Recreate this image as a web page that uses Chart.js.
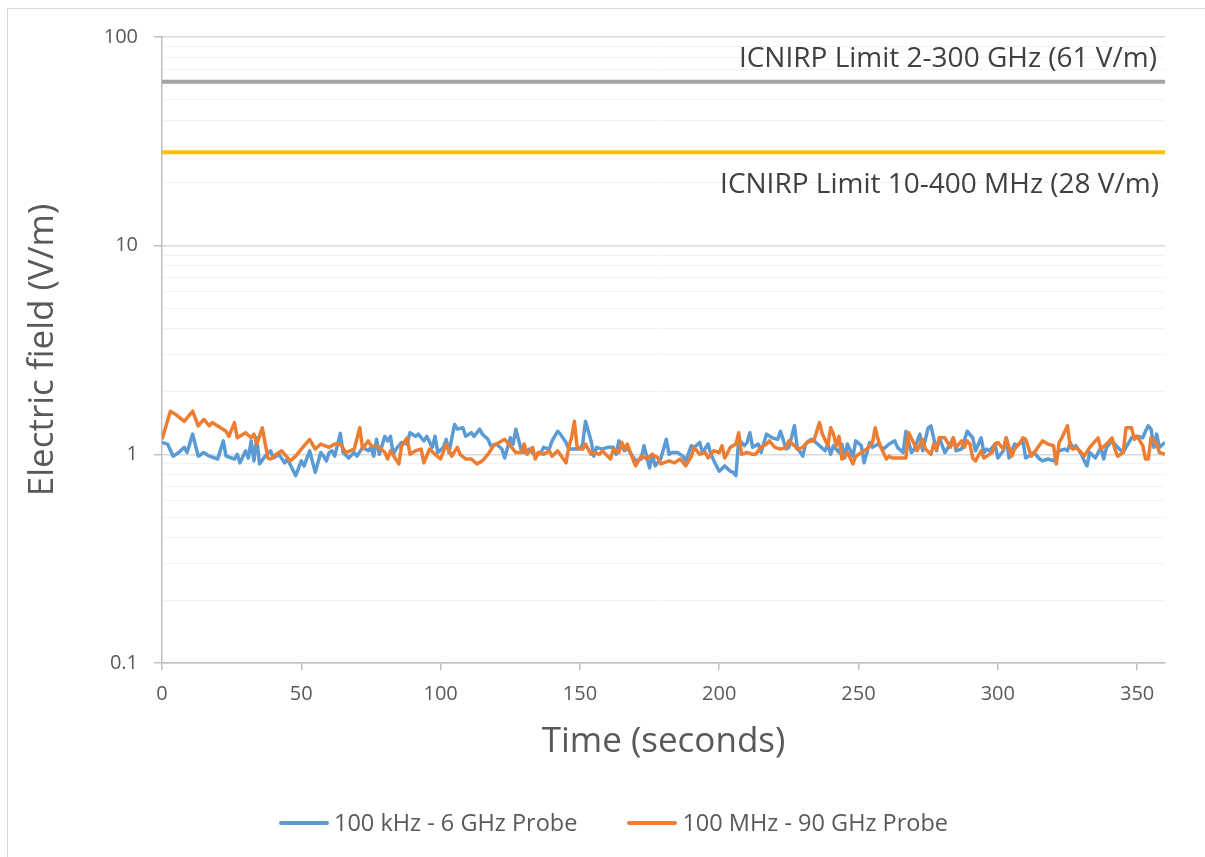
<!DOCTYPE html>
<html lang="en">
<head>
<meta charset="UTF-8">
<title>Electric field over time</title>
<script src="https://cdn.jsdelivr.net/npm/chart.js"></script>
<style>
  body { margin: 0; background: #fff; width: 1205px; height: 857px; overflow: hidden; position: relative; font-family: "Open Sans", sans-serif; }
  .frame { position: absolute; left: 7px; top: 8px; width: 1210px; height: 860px; border: 1px solid #d9d9d9; }
  .wrap { position: absolute; left: 0; top: 0; }
  .legend { position: absolute; top: 807px; left: 279px; display: flex; gap: 50px; color: #595959; font-size: 23.5px; line-height: 31px; }
  .legend .item { display: flex; align-items: center; }
  .legend i { display: inline-block; width: 50px; height: 4px; margin-right: 5px; border-radius: 2px; }
</style>
</head>
<body>
<div class="frame"></div>
<div class="wrap"><canvas id="chart" width="1205" height="857"></canvas></div>
<div class="legend" id="legend"></div>

<script>
// values (seconds, V/m)
const blueTime = [0,2,4,6,8,9,11,13,15,17,20,22,23,26,27,28,30,31,32,33,34,35,37,39,40,42,44,45,48,50,51,53,55,57,58,59,60,61,62,64,65,67,69,70,72,74,75,76,77,78,80,81,82,83,84,86,88,89,91,92,94,95,97,98,99,101,102,103,105,106,108,109,111,112,114,115,117,118,120,122,123,125,126,127,129,130,132,134,136,137,139,140,142,143,145,146,148,150,151,152,154,155,156,158,160,162,163,164,166,167,168,170,172,173,175,176,177,179,181,182,183,185,187,188,190,191,193,194,196,197,199,200,202,204,205,206,207,209,210,211,212,214,215,217,219,221,222,224,225,227,228,230,231,233,234,236,238,239,240,241,243,244,245,246,248,249,251,252,254,255,257,259,261,263,264,266,267,269,270,272,273,275,276,278,279,281,283,284,285,287,289,291,292,294,295,296,297,299,300,302,303,304,306,307,309,310,312,313,315,316,318,320,322,324,325,326,327,328,330,331,332,333,335,337,338,339,341,343,345,346,348,350,352,353,354,355,356,357,358,360];
const blueField = [1.14,1.12,0.98,1.02,1.08,1.02,1.25,0.98,1.02,0.98,0.95,1.16,0.98,0.95,1.00,0.91,1.04,0.96,1.16,0.93,1.20,0.90,0.98,1.04,0.96,1.00,0.91,0.95,0.79,0.93,0.88,1.04,0.82,1.02,0.98,0.93,1.02,1.04,0.98,1.26,1.02,0.96,1.02,0.98,1.08,1.04,1.08,0.98,1.18,1.00,1.22,1.16,1.22,1.00,1.06,1.14,1.12,1.27,1.22,1.25,1.16,1.22,1.08,1.22,1.02,1.08,1.18,1.02,1.39,1.32,1.34,1.22,1.27,1.22,1.32,1.25,1.18,1.10,1.12,1.06,0.96,1.20,1.12,1.32,1.04,1.02,1.06,0.98,1.02,1.08,1.06,1.16,1.29,1.25,1.14,1.06,1.06,1.06,1.12,1.44,1.16,0.98,1.08,1.06,1.08,1.08,1.00,1.16,1.04,1.08,1.02,0.93,0.95,1.10,0.86,1.00,0.88,0.95,1.18,1.00,1.02,1.02,0.98,0.93,1.10,1.08,1.14,1.02,1.12,1.00,0.88,0.83,0.88,0.83,0.82,0.79,1.18,1.10,1.14,1.27,1.08,1.12,1.02,1.25,1.20,1.18,1.29,1.06,1.08,1.37,1.08,0.98,1.12,1.18,1.16,1.10,1.04,1.12,1.00,1.10,1.02,1.12,0.96,1.12,0.98,1.16,1.10,0.91,1.14,1.08,1.12,1.06,1.12,1.16,1.08,1.02,1.29,1.02,1.06,1.25,1.04,1.34,1.37,1.04,1.20,1.02,1.12,1.20,1.04,1.06,1.29,1.20,1.04,1.20,1.02,1.06,1.04,1.12,0.96,1.04,1.20,0.96,1.12,1.10,1.16,0.96,1.00,1.02,0.95,0.93,0.95,0.93,1.04,1.06,1.04,1.14,1.06,1.10,1.00,0.93,0.88,1.02,0.96,1.08,0.95,1.08,1.16,1.08,1.02,1.08,1.20,1.22,1.20,1.29,1.37,1.32,1.08,1.25,1.08,1.14];

const orangeTime = [0,3,5,8,11,13,15,17,18,23,24,26,27,30,32,33,34,36,38,39,41,43,46,48,50,53,55,57,60,62,64,66,69,71,72,74,75,78,80,81,82,85,86,88,89,91,93,94,96,98,100,102,104,106,107,109,111,113,115,117,119,121,123,125,127,129,130,131,133,134,135,137,139,140,142,145,146,147,148,149,151,152,154,155,157,158,160,161,162,164,165,166,167,169,170,172,174,176,178,179,182,184,186,188,190,191,193,195,196,198,200,201,202,204,206,207,208,210,212,213,215,217,218,220,222,224,225,227,228,230,232,234,235,236,237,239,240,241,242,243,244,246,248,249,251,253,255,256,257,258,260,261,262,264,266,267,268,270,271,273,274,276,277,278,279,281,283,284,285,287,288,289,290,291,292,294,295,297,298,299,300,302,303,304,305,306,308,309,310,312,314,316,318,320,321,322,323,325,326,327,328,330,331,333,334,336,337,339,341,342,343,345,346,348,349,350,352,353,354,355,357,358,360];
const orangeField = [1.18,1.61,1.55,1.44,1.61,1.37,1.47,1.37,1.42,1.29,1.22,1.42,1.20,1.27,1.20,1.25,1.12,1.34,0.96,0.95,1.00,1.04,0.93,0.98,1.06,1.18,1.06,1.12,1.08,1.12,1.12,1.02,1.06,1.34,1.06,1.16,1.10,1.08,1.02,0.95,1.04,0.90,1.10,1.20,1.00,1.04,1.06,0.91,1.06,1.00,0.95,1.12,0.98,1.08,1.00,0.95,0.95,0.90,0.93,1.00,1.10,1.14,1.18,1.10,1.02,1.02,1.12,1.00,1.08,0.95,1.02,1.00,1.04,0.98,1.04,0.91,1.08,1.20,1.44,1.08,1.06,1.12,1.00,1.02,1.00,1.04,0.98,0.95,1.06,1.02,1.14,1.06,1.12,0.95,0.88,0.98,0.95,1.00,0.96,0.90,0.93,0.91,0.95,0.88,0.98,1.08,1.00,1.02,0.96,1.04,1.02,1.10,0.96,1.08,1.12,1.27,1.00,1.02,1.00,1.00,1.08,1.12,1.16,1.08,1.06,1.08,1.16,1.10,1.06,1.08,1.16,1.16,1.29,1.42,1.25,1.10,1.34,1.25,1.10,1.22,0.95,1.02,0.90,0.98,1.02,1.06,1.14,1.34,1.18,1.08,0.95,0.98,0.96,0.96,0.96,0.96,1.27,1.12,1.04,1.18,1.06,1.00,1.12,1.06,1.20,1.20,1.08,1.20,1.08,1.16,1.08,1.16,1.12,0.96,0.93,1.04,0.96,1.00,1.02,1.12,1.14,1.06,1.20,1.08,0.98,1.06,1.14,1.20,1.18,0.98,1.06,1.16,1.12,1.10,0.90,1.14,1.20,1.37,1.08,1.06,1.08,1.02,0.98,1.08,1.12,1.20,1.06,1.12,1.20,1.06,0.98,1.02,1.34,1.34,1.18,1.22,1.10,0.95,0.95,1.20,1.12,1.02,1.00];

const limitTime = [0, 360];
const limitHigh = 61;   // ICNIRP 2-300 GHz
const limitLow = 28;    // ICNIRP 10-400 MHz
const limitText = ['ICNIRP Limit 2-300 GHz (61 V/m)', 'ICNIRP Limit 10-400 MHz (28 V/m)'];

const seriesNames = ['100 kHz - 6 GHz Probe', '100 MHz - 90 GHz Probe'];
const seriesColors = ['#5b9bd5', '#ed7d31'];

const xTicks = [0, 50, 100, 150, 200, 250, 300, 350];
const yTicks = [0.1,0.2,0.3,0.4,0.5,0.6,0.7,0.8,0.9,1,2,3,4,5,6,7,8,9,10,20,30,40,50,60,70,80,90,100];
const yLabels = [0.1, 1, 10, 100];

function toPoints(xs, ys) {
    return xs.map((x, i) => ({ x: x, y: ys[i] }));
}

// legend as html
const legend = document.getElementById('legend');
seriesNames.forEach((name, i) => {
    legend.innerHTML += `<span class="item"><i style="background:${seriesColors[i]}"></i>${name}</span>`;
});

const limitLabels = {
    id: 'limitLabels',
    afterDatasetsDraw(chart) {
        const { ctx, chartArea, scales: { y } } = chart;
        ctx.save();
        ctx.font = '28px "Open Sans"';
        ctx.fillStyle = '#404040';
        ctx.textAlign = 'right';
        ctx.textBaseline = 'alphabetic';
        ctx.fillText(limitText[0], chartArea.right - 8, y.getPixelForValue(limitHigh) - 15);
        ctx.fillText(limitText[1], chartArea.right - 6, y.getPixelForValue(limitLow) + 41);
        ctx.restore();
    }
};

Chart.defaults.font.family = '"Open Sans", sans-serif';
Chart.defaults.color = '#595959';

const lineStyle = { pointRadius: 0, tension: 0, borderJoinStyle: 'round', fill: false };

new Chart(document.getElementById('chart'), {
    type: 'line',
    data: {
        datasets: [
            { label: seriesNames[1], data: toPoints(orangeTime, orangeField), borderColor: seriesColors[1], borderWidth: 3.5, order: 1, ...lineStyle },
            { label: seriesNames[0], data: toPoints(blueTime, blueField), borderColor: seriesColors[0], borderWidth: 3.5, order: 2, ...lineStyle },
            { label: 'limit high', data: toPoints(limitTime, [limitHigh, limitHigh]), borderColor: '#a5a5a5', borderWidth: 4, order: 3, ...lineStyle },
            { label: 'limit low', data: toPoints(limitTime, [limitLow, limitLow]), borderColor: '#ffc000', borderWidth: 4, order: 4, ...lineStyle }
        ]
    },
    options: {
        responsive: false,
        animation: false,
        layout: { padding: { top: 37, right: 40, bottom: 0, left: 0 } },
        plugins: { legend: { display: false }, tooltip: { enabled: false } },
        scales: {
            x: {
                type: 'linear',
                min: 0,
                max: 360,
                afterBuildTicks: s => { s.ticks = xTicks.map(v => ({ value: v })); },
                afterFit: s => { s.height = 194; },
                grid: { drawOnChartArea: false, drawTicks: true, tickLength: 7, tickColor: '#bfbfbf', lineWidth: 1.5 },
                border: { color: '#bfbfbf', width: 1.5 },
                ticks: { color: '#595959', font: { size: 20 }, padding: 12, maxRotation: 0, autoSkip: false },
                title: { display: true, text: 'Time (seconds)', color: '#595959', font: { size: 35 }, padding: { top: 0, bottom: 94 } }
            },
            y: {
                type: 'logarithmic',
                min: 0.1,
                max: 100,
                afterBuildTicks: s => { s.ticks = yTicks.map(v => ({ value: v })); },
                afterFit: s => { s.width = 162; },
                grid: {
                    color: c => yLabels.includes(c.tick.value) ? '#d9d9d9' : '#f2f2f2',
                    tickColor: c => yLabels.includes(c.tick.value) ? '#bfbfbf' : 'rgba(0,0,0,0)',
                    tickLength: 8,
                    lineWidth: c => yLabels.includes(c.tick.value) ? 1.5 : 1
                },
                border: { color: '#bfbfbf', width: 1.5 },
                ticks: {
                    callback: v => yLabels.includes(v) ? String(v) : '',
                    color: '#595959', font: { size: 20 }, padding: 16, autoSkip: false
                },
                title: { display: true, text: 'Electric field (V/m)', color: '#595959', font: { size: 35 }, padding: { top: 22, bottom: 0 } }
            }
        }
    },
    plugins: [limitLabels]
});
</script>
</body>
</html>
